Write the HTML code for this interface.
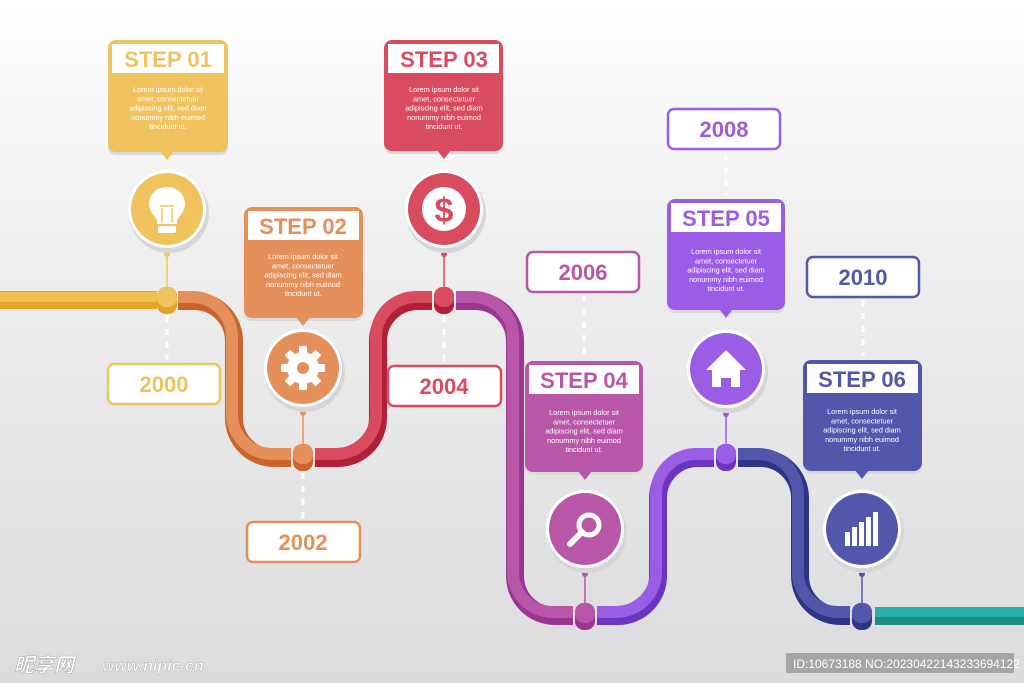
<!DOCTYPE html>
<html><head><meta charset="utf-8">
<style>
html,body{margin:0;padding:0;}
body{width:1024px;height:683px;overflow:hidden;background:linear-gradient(#ffffff 0%,#efeff0 35%,#dcdcde 100%);}
svg{display:block}
text{font-family:"Liberation Sans","Noto Sans CJK SC",sans-serif;}
.t{font-weight:bold;font-size:22px;text-anchor:middle;}
.b{fill:#fff;font-size:7.3px;text-anchor:middle;}
.y{font-weight:bold;font-size:22px;text-anchor:middle;}
</style></head><body>
<svg width="1024" height="683" viewBox="0 0 1024 683" xmlns="http://www.w3.org/2000/svg">
<g fill="none" stroke-linecap="butt">
<!-- yellow -->
<path d="M0,300 H157" stroke="#e6a529" stroke-width="18"/>
<path d="M0,297 H157" stroke="#f0c050" stroke-width="10"/>
<!-- orange -->
<path d="M178,301 H194 A40,40 0 0 1 234,341 V418 A40,40 0 0 0 274,458 H291" stroke="#c9652c" stroke-width="18"/>
<path d="M178,297 H194 A40,40 0 0 1 232,337 V414 A40,40 0 0 0 272,454 H291" stroke="#e5905a" stroke-width="12"/>
<!-- red -->
<path d="M315,458 H338 A40,40 0 0 0 378,418 V341 A40,40 0 0 1 418,301 H432" stroke="#b22038" stroke-width="18"/>
<path d="M315,454 H336 A40,40 0 0 0 376,414 V337 A40,40 0 0 1 416,297 H432" stroke="#d94b5e" stroke-width="12"/>
<!-- magenta -->
<path d="M456,301 H475 A40,40 0 0 1 515,341 V576 A40,40 0 0 0 555,616 H573" stroke="#9a3592" stroke-width="18"/>
<path d="M456,297 H475 A40,40 0 0 1 513,337 V572 A40,40 0 0 0 553,612 H573" stroke="#b856a8" stroke-width="12"/>
<!-- violet -->
<path d="M597,616 H618 A40,40 0 0 0 658,576 V498 A40,40 0 0 1 698,458 H714" stroke="#6a35c0" stroke-width="18"/>
<path d="M597,612 H616 A40,40 0 0 0 656,572 V494 A40,40 0 0 1 696,454 H714" stroke="#9b5de5" stroke-width="12"/>
<!-- indigo -->
<path d="M738,458 H760 A40,40 0 0 1 800,498 V576 A40,40 0 0 0 840,616 H850" stroke="#2f3585" stroke-width="18"/>
<path d="M738,454 H760 A40,40 0 0 1 798,494 V572 A40,40 0 0 0 838,612 H850" stroke="#5257ab" stroke-width="12"/>
<!-- teal -->
<path d="M875,616 H1024" stroke="#1c8d86" stroke-width="18"/>
<path d="M875,612 H1024" stroke="#2aaea8" stroke-width="10"/>
</g>

<!-- dashed connectors -->
<g stroke="#fff" stroke-width="3" stroke-dasharray="6,7">
<line x1="167" y1="316" x2="167" y2="360"/>
<line x1="303" y1="473" x2="303" y2="518"/>
<line x1="444" y1="316" x2="444" y2="362"/>
<line x1="584" y1="296" x2="584" y2="356"/>
<line x1="726" y1="154" x2="726" y2="195"/>
<line x1="863" y1="300" x2="863" y2="356"/>
</g>

<!-- stems -->
<g stroke-width="1.5">
<line x1="167" y1="254" x2="167" y2="290" stroke="#f0c35e"/><circle cx="167" cy="254" r="3" fill="#f0c35e"/>
<line x1="303" y1="413" x2="303" y2="447" stroke="#e5905a"/><circle cx="303" cy="413" r="3" fill="#e5905a"/>
<line x1="444" y1="254" x2="444" y2="290" stroke="#d94b5e"/><circle cx="444" cy="254" r="3" fill="#d94b5e"/>
<line x1="585" y1="574" x2="585" y2="605" stroke="#b856a8"/><circle cx="585" cy="574" r="3" fill="#b856a8"/>
<line x1="726" y1="414" x2="726" y2="447" stroke="#9b5de5"/><circle cx="726" cy="414" r="3" fill="#9b5de5"/>
<line x1="862" y1="574" x2="862" y2="605" stroke="#5257ab"/><circle cx="862" cy="574" r="3" fill="#5257ab"/>
</g>

<!-- nodes -->
<g>
<rect x="157" y="287" width="20" height="27" rx="9" fill="#e0a22a"/><rect x="157" y="287" width="20" height="20" rx="9" fill="#f0c35e"/>
<rect x="293" y="444" width="20" height="27" rx="9" fill="#c9652c"/><rect x="293" y="444" width="20" height="20" rx="9" fill="#e5905a"/>
<rect x="434" y="287" width="20" height="27" rx="9" fill="#b22038"/><rect x="434" y="287" width="20" height="20" rx="9" fill="#d94b5e"/>
<rect x="575" y="603" width="20" height="27" rx="9" fill="#9a3592"/><rect x="575" y="603" width="20" height="20" rx="9" fill="#b856a8"/>
<rect x="716" y="444" width="20" height="27" rx="9" fill="#6a35c0"/><rect x="716" y="444" width="20" height="20" rx="9" fill="#9b5de5"/>
<rect x="852" y="603" width="20" height="27" rx="9" fill="#2f3585"/><rect x="852" y="603" width="20" height="20" rx="9" fill="#5257ab"/>
</g>

<!-- circles -->
<g>
<circle cx="169" cy="213" r="40" fill="#d6d6d8"/><circle cx="167" cy="209" r="39" fill="#fff"/><circle cx="167" cy="209" r="36" fill="#f0c35e"/>
<circle cx="305" cy="372" r="40" fill="#d6d6d8"/><circle cx="303" cy="368" r="39" fill="#fff"/><circle cx="303" cy="368" r="36" fill="#e5905a"/>
<circle cx="446" cy="213" r="40" fill="#d6d6d8"/><circle cx="444" cy="209" r="39" fill="#fff"/><circle cx="444" cy="209" r="36" fill="#d94b5e"/>
<circle cx="587" cy="533" r="40" fill="#d6d6d8"/><circle cx="585" cy="529" r="39" fill="#fff"/><circle cx="585" cy="529" r="36" fill="#b856a8"/>
<circle cx="728" cy="373" r="40" fill="#d6d6d8"/><circle cx="726" cy="369" r="39" fill="#fff"/><circle cx="726" cy="369" r="36" fill="#9b5de5"/>
<circle cx="864" cy="533" r="40" fill="#d6d6d8"/><circle cx="862" cy="529" r="39" fill="#fff"/><circle cx="862" cy="529" r="36" fill="#5257ab"/>
</g>

<!-- icons -->
<g fill="#fff">
<!-- bulb -->
<path d="M167,187 c-11,0 -18,8 -18,17 c0,7 5,11 8,16 v4 h20 v-4 c3,-5 8,-9 8,-16 c0,-9 -7,-17 -18,-17z"/>
<rect x="158" y="226" width="18" height="7" rx="2"/>
<path d="M162,222 v-14 M172,222 v-14 M160,206 h14" stroke="#f0c35e" stroke-width="1.5" fill="none"/>
<!-- gear -->
<g transform="translate(303,368)">
<rect x="-4" y="-22" width="8" height="44" rx="1"/>
<rect x="-4" y="-22" width="8" height="44" rx="1" transform="rotate(45)"/>
<rect x="-4" y="-22" width="8" height="44" rx="1" transform="rotate(90)"/>
<rect x="-4" y="-22" width="8" height="44" rx="1" transform="rotate(135)"/>
<circle r="16"/><circle r="6" fill="#e5905a"/>
</g>
<!-- dollar -->
<circle cx="444" cy="209" r="22"/>
<text x="444" y="222" font-size="34" font-weight="bold" fill="#d94b5e" text-anchor="middle">$</text>
<!-- search -->
<circle cx="589" cy="525" r="10" fill="none" stroke="#fff" stroke-width="5"/>
<path d="M582,532 L570,544" stroke="#fff" stroke-width="6" stroke-linecap="round"/>
<!-- house -->
<path d="M726,350 L706,370 h6 v17 h9 v-9 h10 v9 h9 v-17 h6z"/>
<!-- bars -->
<rect x="845" y="532" width="5" height="14"/><rect x="852" y="527" width="5" height="19"/><rect x="859" y="522" width="5" height="24"/><rect x="866" y="517" width="5" height="29"/><rect x="873" y="512" width="5" height="34"/>
</g>

<!-- step boxes -->
<g>
<!-- 01 -->
<rect x="108" y="43" width="120" height="112" rx="8" fill="#d9d9db"/>
<rect x="108" y="40" width="120" height="112" rx="8" fill="#f0c35e"/>
<path d="M160,151 L167,160 L174,151z" fill="#f0c35e"/>
<rect x="112" y="44" width="112" height="29" fill="#fff"/>
<text class="t" x="168" y="67" fill="#f0c35e">STEP 01</text>
<!-- 02 -->
<rect x="244" y="210" width="119" height="111" rx="8" fill="#d9d9db"/>
<rect x="244" y="207" width="119" height="111" rx="8" fill="#e5905a"/>
<path d="M296,317 L303,326 L310,317z" fill="#e5905a"/>
<rect x="248" y="211" width="111" height="29" fill="#fff"/>
<text class="t" x="303" y="234" fill="#e5905a">STEP 02</text>
<!-- 03 -->
<rect x="384" y="43" width="119" height="111" rx="8" fill="#d9d9db"/>
<rect x="384" y="40" width="119" height="111" rx="8" fill="#d94b5e"/>
<path d="M437,150 L444,159 L451,150z" fill="#d94b5e"/>
<rect x="388" y="44" width="111" height="29" fill="#fff"/>
<text class="t" x="444" y="67" fill="#d94b5e">STEP 03</text>
<!-- 04 -->
<rect x="525" y="364" width="118" height="111" rx="8" fill="#d9d9db"/>
<rect x="525" y="361" width="118" height="111" rx="8" fill="#b856a8"/>
<path d="M578,471 L585,480 L592,471z" fill="#b856a8"/>
<rect x="529" y="365" width="110" height="29" fill="#fff"/>
<text class="t" x="584" y="388" fill="#b856a8">STEP 04</text>
<!-- 05 -->
<rect x="667" y="202" width="118" height="111" rx="8" fill="#d9d9db"/>
<rect x="667" y="199" width="118" height="111" rx="8" fill="#9b5de5"/>
<path d="M719,309 L726,318 L733,309z" fill="#9b5de5"/>
<rect x="671" y="203" width="110" height="29" fill="#fff"/>
<text class="t" x="726" y="226" fill="#9b5de5">STEP 05</text>
<!-- 06 -->
<rect x="803" y="363" width="119" height="111" rx="8" fill="#d9d9db"/>
<rect x="803" y="360" width="119" height="111" rx="8" fill="#5257ab"/>
<path d="M855,470 L862,479 L869,470z" fill="#5257ab"/>
<rect x="807" y="364" width="111" height="29" fill="#fff"/>
<text class="t" x="862" y="387" fill="#5257ab">STEP 06</text>
</g>

<!-- body text -->
<g class="b">
<text class="b" x="168" y="92">Lorem ipsum dolor sit<tspan x="168" dy="9.3">amet, consectetuer</tspan><tspan x="168" dy="9.3">adipiscing elit, sed diam</tspan><tspan x="168" dy="9.3">nonummy nibh euimod</tspan><tspan x="168" dy="9.3">tincidunt ut.</tspan></text>
<text class="b" x="303" y="259">Lorem ipsum dolor sit<tspan x="303" dy="9.3">amet, consectetuer</tspan><tspan x="303" dy="9.3">adipiscing elit, sed diam</tspan><tspan x="303" dy="9.3">nonummy nibh euimod</tspan><tspan x="303" dy="9.3">tincidunt ut.</tspan></text>
<text class="b" x="444" y="92">Lorem ipsum dolor sit<tspan x="444" dy="9.3">amet, consectetuer</tspan><tspan x="444" dy="9.3">adipiscing elit, sed diam</tspan><tspan x="444" dy="9.3">nonummy nibh euimod</tspan><tspan x="444" dy="9.3">tincidunt ut.</tspan></text>
<text class="b" x="584" y="415">Lorem ipsum dolor sit<tspan x="584" dy="9.3">amet, consectetuer</tspan><tspan x="584" dy="9.3">adipiscing elit, sed diam</tspan><tspan x="584" dy="9.3">nonummy nibh euimod</tspan><tspan x="584" dy="9.3">tincidunt ut.</tspan></text>
<text class="b" x="726" y="254">Lorem ipsum dolor sit<tspan x="726" dy="9.3">amet, consectetuer</tspan><tspan x="726" dy="9.3">adipiscing elit, sed diam</tspan><tspan x="726" dy="9.3">nonummy nibh euimod</tspan><tspan x="726" dy="9.3">tincidunt ut.</tspan></text>
<text class="b" x="862" y="414">Lorem ipsum dolor sit<tspan x="862" dy="9.3">amet, consectetuer</tspan><tspan x="862" dy="9.3">adipiscing elit, sed diam</tspan><tspan x="862" dy="9.3">nonummy nibh euimod</tspan><tspan x="862" dy="9.3">tincidunt ut.</tspan></text>
</g>

<!-- year boxes -->
<g stroke-width="2.5" fill="#fff">
<rect x="108" y="364" width="112" height="40" rx="6" stroke="#f0c35e"/>
<rect x="247" y="522" width="113" height="40" rx="6" stroke="#e5905a"/>
<rect x="388" y="366" width="113" height="40" rx="6" stroke="#d94b5e"/>
<rect x="527" y="252" width="112" height="40" rx="6" stroke="#b856a8"/>
<rect x="668" y="109" width="112" height="40" rx="6" stroke="#9b5de5"/>
<rect x="807" y="257" width="112" height="40" rx="6" stroke="#5257ab"/>
</g>
<text class="y" x="164" y="392" fill="#f0c35e">2000</text>
<text class="y" x="303" y="550" fill="#e5905a">2002</text>
<text class="y" x="444" y="394" fill="#d94b5e">2004</text>
<text class="y" x="583" y="280" fill="#b856a8">2006</text>
<text class="y" x="724" y="137" fill="#9b5de5">2008</text>
<text class="y" x="863" y="285" fill="#5257ab">2010</text>

<!-- watermark -->
<text x="14" y="672" font-size="20" font-weight="bold" font-style="italic" fill="#fff" stroke="#b0b0b0" stroke-width="0.6">昵享网</text>
<text x="102" y="671" font-size="16" font-weight="bold" font-style="italic" fill="#fff" stroke="#b0b0b0" stroke-width="0.5">www.nipic.cn</text>
<rect x="786" y="653" width="228" height="20" fill="#a5a5a7"/>
<text x="793" y="668" font-size="12" fill="#fff">ID:10673188 NO:20230422143233694122</text>
</svg>
</body></html>
